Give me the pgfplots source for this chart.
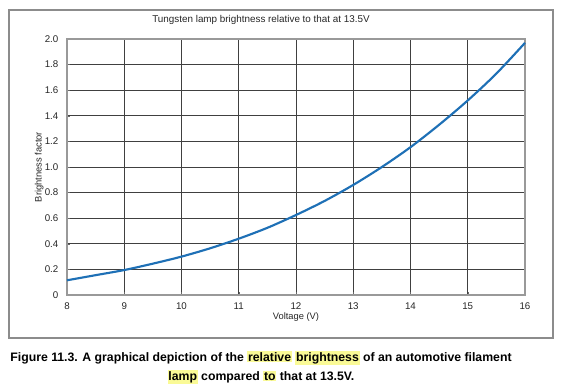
\documentclass[border=0pt]{standalone}
\usepackage{pgfplots}
\pgfplotsset{compat=1.18}
\usepackage{fontspec}
\setmainfont{Liberation Sans}
\usepackage{xcolor}
\definecolor{curve}{RGB}{30,112,182}
\definecolor{hl}{RGB}{250,250,150}
\newcommand{\hl}[1]{{\setlength{\fboxsep}{0.6pt}\colorbox{hl}{#1}}}
\begin{document}
\begin{tikzpicture}[x=1pt,y=1pt]
\useasboundingbox (-50.25,-69) rectangle (372,221.25);
\draw[black!45, line width=0.9pt] (-43.5,-32.25) rectangle (364.5,213.75);
\begin{axis}[
  at={(0,0)}, anchor=origin,
  scale only axis, width=343.5pt, height=192pt,
  xmin=8, xmax=16, ymin=0, ymax=2,
  xtick={8,...,16},
  ytick={0,0.2,0.4,0.6,0.8,1.0,1.2,1.4,1.6,1.8,2.0},
  yticklabels={0,0.2,0.4,0.6,0.8,1.0,1.2,1.4,1.6,1.8,2.0},
  /pgf/number format/assume math mode=true,
  tick label style={font=\fontsize{7.3}{8}\selectfont, text=black!85},
  xticklabel style={yshift=-2pt},
  yticklabel style={xshift=-3pt},
  label style={font=\fontsize{7}{8}\selectfont, text=black!85},
  xlabel={Voltage (V)},
  ylabel={Brightness factor},
  xlabel style={yshift=4pt},
  ylabel style={yshift=-6pt},
  grid=major,
  major grid style={black!75, line width=0.5pt},
  axis line style={black!40, line width=0.8pt},
  major tick length=2pt,
  tick style={black!60},
  xtick pos=bottom, ytick pos=left,
  clip=false,
]
\addplot[curve, line width=1.6pt, smooth] coordinates {
(8,0.115) (8.5,0.155) (9,0.195) (9.5,0.245) (10,0.30) (10.5,0.365)
(11,0.44) (11.5,0.525) (12,0.625) (12.5,0.735) (13,0.86) (13.5,1.00)
(14,1.155) (14.5,1.33) (15,1.52) (15.5,1.73) (16,1.97)
};
\end{axis}
\node[font=\fontsize{7.4}{8}\selectfont, text=black!85] at (145.5,206.25) {Tungsten lamp brightness relative to that at 13.5V};
\node[font=\fontsize{9.2}{10}\selectfont\bfseries] at (145.5,-47.25) {Figure 11.3. A graphical depiction of the \hl{relative} \hl{brightness} of an automotive filament};
\node[font=\fontsize{9.2}{10}\selectfont\bfseries] at (145.5,-61.5) {\hl{lamp} compared \hl{to} that at 13.5V.};
\end{tikzpicture}
\end{document}
